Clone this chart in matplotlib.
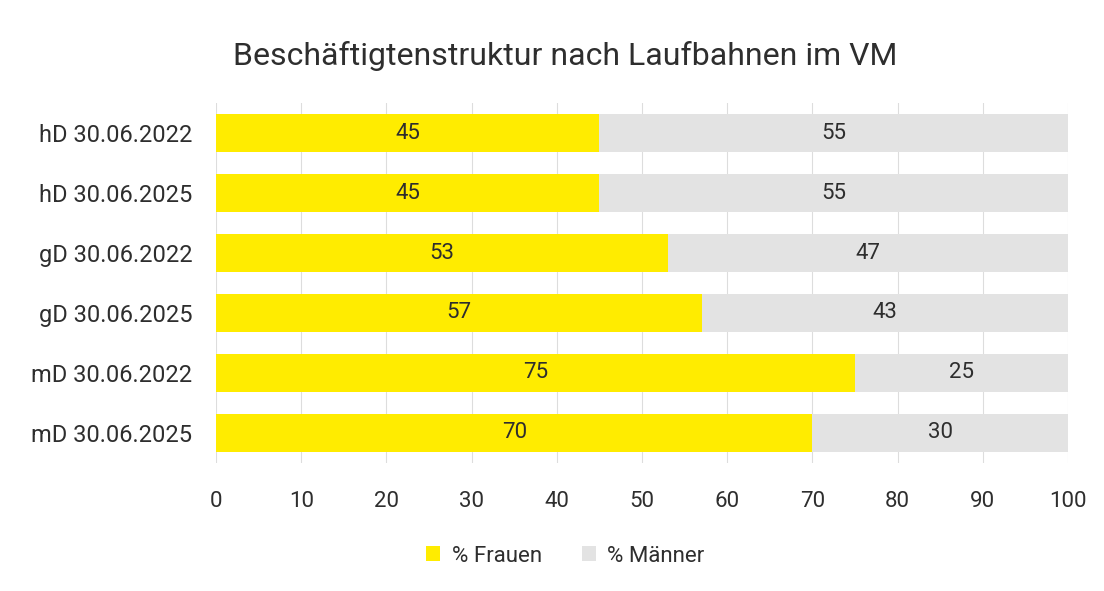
import matplotlib
matplotlib.use("Agg")
import matplotlib.pyplot as plt

plt.rcParams['font.family'] = ['Roboto', 'DejaVu Sans']

categories = ["hD 30.06.2022", "hD 30.06.2025", "gD 30.06.2022",
              "gD 30.06.2025", "mD 30.06.2022", "mD 30.06.2025"]
frauen = [45, 45, 53, 57, 75, 70]
maenner = [55, 55, 47, 43, 25, 30]
xticks = [0, 10, 20, 30, 40, 50, 60, 70, 80, 90, 100]

yellow = "#FFEC00"
gray = "#E3E3E3"
txt = "#2E2E2E"

fig = plt.figure(figsize=(11.04, 5.91), dpi=100)
ax = fig.add_axes([0.1957, 0.2166, 0.7717, 0.6091])

y = list(range(len(categories)))
h = 0.63
ax.barh(y, frauen, height=h, color=yellow, label="% Frauen", zorder=2)
ax.barh(y, maenner, left=frauen, height=h, color=gray, label="% Männer", zorder=2)

for i, (f, m) in enumerate(zip(frauen, maenner)):
    ax.text(f / 2, i, str(f), ha="center", va="center", fontsize=16, color=txt, zorder=3)
    ax.text(f + m / 2, i, str(m), ha="center", va="center", fontsize=16, color=txt, zorder=3)

ax.set_xlim(0, 100)
ax.set_ylim(len(categories) - 0.5, -0.5)
ax.set_xticks(xticks)
ax.set_xticklabels([str(t) for t in xticks], fontsize=16, color=txt)
ax.set_yticks(y)
ax.set_yticklabels(categories, fontsize=17, color=txt)
ax.tick_params(axis="both", length=0)
ax.tick_params(axis="x", pad=20)
ax.tick_params(axis="y", pad=17)
ax.grid(axis="x", color="#DDDDDD", linewidth=0.8, zorder=0)
for s in ax.spines.values():
    s.set_visible(False)

fig.text(0.5118, 0.905, "Beschäftigtenstruktur nach Laufbahnen im VM",
         ha="center", va="center", fontsize=23, color=txt)

leg = fig.legend(loc="center", bbox_to_anchor=(0.512, 0.059), ncol=2, frameon=False,
                 fontsize=16, handlelength=0.65, handleheight=0.65, handletextpad=0.5,
                 columnspacing=1.8, labelcolor=txt)

fig.savefig("out.png", dpi=100)
